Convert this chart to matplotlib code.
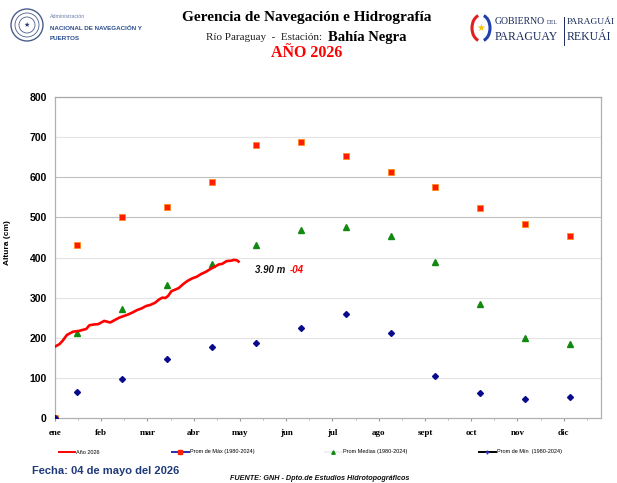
import numpy as np
import matplotlib
matplotlib.use('Agg')
import matplotlib.pyplot as plt
from matplotlib.lines import Line2D
from matplotlib.patches import Ellipse, Arc

# Data
months = ['ene', 'feb', 'mar', 'abr', 'may', 'jun', 'jul', 'ago', 'sept', 'oct', 'nov', 'dic']

# Monthly historical statistics (1980-2024), plotted at mid-month days
stat_days = [0, 15, 45, 75, 105, 135, 165, 195, 225, 255, 285, 315, 345]
prom_max = [0, 430, 500, 525, 588, 681, 688, 652, 612, 576, 523, 484, 454]
prom_med = [0, 213, 271, 331, 383, 431, 468, 477, 453, 388, 285, 200, 185]
prom_min = [0, 65, 98, 148, 178, 188, 224, 260, 211, 105, 62, 47, 52]

# Año 2026 levels (cm)
days_2026 = [0, 3, 5, 8, 12, 16, 19, 21, 23, 26, 29, 31, 33, 35, 37, 40, 43, 46, 49, 52,
             55, 58, 61, 64, 67, 70, 72, 74, 76, 78, 80, 83, 86, 89, 92, 95, 98, 101,
             104, 107, 110, 112, 115, 118, 120, 122, 123]
nivel_2026 = [178, 184, 192, 207, 215, 217, 220, 222, 231, 233, 234, 238, 242, 240, 238, 244,
              250, 254, 258, 263, 269, 273, 279, 282, 287, 296, 300, 299, 305, 316, 319, 324,
              334, 342, 348, 352, 359, 364, 371, 377, 383, 384, 391, 392, 394, 393, 390]

W, H = 617, 483


def px(x):
    return x / W


def py(y):
    return 1 - y / H


SERIF = 'Liberation Serif'
SANS = 'Liberation Sans'

fig = plt.figure(figsize=(W / 100, H / 100), dpi=100)
fig.patch.set_facecolor('white')

ax_w = (601 - 55) / W
ax = fig.add_axes([px(55), py(418), ax_w, (418 - 97) / H])

ax.plot(days_2026, nivel_2026, color='#ff0000', lw=1.9, zorder=4)
ax.plot(stat_days, prom_max, linestyle='none', marker='s', markersize=4.6,
        markerfacecolor='#ff1a00', markeredgecolor='#ff8c1a', markeredgewidth=0.6, zorder=3)
ax.plot(stat_days, prom_med, linestyle='none', marker='^', markersize=4,
        color='#128a12', zorder=3)
ax.plot(stat_days, prom_min, linestyle='none', marker='D', markersize=3,
        color='#0a0a8c', zorder=3)

ax.set_xlim(0, 366)
ax.set_ylim(0, 800)
ax.set_yticks(np.arange(0, 801, 100))
ax.set_yticklabels([str(v) for v in range(0, 801, 100)], family=SANS, weight='bold', fontsize=7.5)
ax.tick_params(axis='y', length=0, pad=6)

ax.set_xticks([31 * i for i in range(12)])
ax.set_xticklabels(months, family=SERIF, weight='bold', fontsize=6.5)
ax.set_xticks(np.arange(0, 366, 15.5), minor=True)
ax.tick_params(axis='x', which='major', length=2, color='#999999', pad=6)
ax.tick_params(axis='x', which='minor', length=1.5, color='#aaaaaa')

for v in range(100, 801, 100):
    c = '#c0c0c0' if v in (500, 600) else '#e4e4e4'
    ax.axhline(v, color=c, lw=0.8, zorder=1)

ax.spines['top'].set_color('#a8a8a8')
ax.spines['top'].set_linewidth(0.9)
for side in ('left', 'right', 'bottom'):
    ax.spines[side].set_color('#b0b0b0')
    ax.spines[side].set_linestyle((0, (1, 1)))
    ax.spines[side].set_linewidth(0.9)

ax.set_ylabel('Altura (cm)', family=SANS, weight='bold', fontsize=6)
ax.yaxis.set_label_coords((11 - 55) / (601 - 55), 0.545)

# annotation of the last value
ax.text(134, 369, '3.90 m', family=SANS, weight='bold', style='italic', fontsize=7,
        ha='left', va='center', color='#111111')
ax.text(157.5, 369, '-04', family=SANS, weight='bold', style='italic', fontsize=7,
        ha='left', va='center', color='#ff0000')

# legend row
entries = [
    (59, Line2D([], [], color='#ff0000', lw=1.4), 'Año 2026', 2.9),
    (172, Line2D([], [], color='#2b2bb0', lw=1.4, marker='s', markersize=2.5,
                 markerfacecolor='#ff2200', markeredgecolor='#ff2200'), 'Prom de Máx (1980-2024)', 3.0),
    (325, Line2D([], [], color='#f0f0f0', lw=1.4, marker='^', markersize=2.5,
                 markerfacecolor='#128a12', markeredgecolor='#128a12'), 'Prom Medias (1980-2024)', 3.0),
    (479, Line2D([], [], color='#000000', lw=1.4, marker='+', markersize=3,
                 markeredgecolor='#2b2bd0'), 'Prom de Mín  (1980-2024)', 3.0),
]
for x0, handle, label, hl in entries:
    fig.legend(handles=[handle], labels=[label], loc='center left',
               bbox_to_anchor=(px(x0), py(452)), frameon=False,
               prop={'family': SANS, 'size': 4}, handlelength=hl,
               handletextpad=0.2, borderpad=0, borderaxespad=0)

fig.text(px(32), py(471), 'Fecha: 04 de mayo del 2026', family=SANS, weight='bold',
         fontsize=8, color='#1f3a7a', ha='left', va='center')
fig.text(px(230), py(479), 'FUENTE: GNH - Dpto.de Estudios Hidrotopográficos', family=SANS,
         weight='bold', style='italic', fontsize=5.2, color='#111111', ha='left', va='center')

# header
fig.text(px(307), py(18), 'Gerencia de Navegación e Hidrografía', family=SERIF,
         weight='bold', fontsize=11, ha='center', va='center')
fig.text(px(325), py(38), 'Río Paraguay  -  Estación: ', family=SERIF, fontsize=8,
         ha='right', va='center', color='#222222')
fig.text(px(328), py(37), 'Bahía Negra', family=SERIF, weight='bold', fontsize=10.5,
         ha='left', va='center')
fig.text(px(307), py(53), 'AÑO 2026', family=SERIF, weight='bold', fontsize=11.5,
         color='#ff0000', ha='center', va='center')

# left logo (seal + institution name)
for r, lw in ((16, 1.0), (12, 0.6), (8, 0.6)):
    fig.add_artist(Ellipse((px(27), py(25)), 2 * r / W, 2 * r / H, fill=False,
                           edgecolor='#4a5d8c', lw=lw, transform=fig.transFigure))
fig.text(px(27), py(25), '★', family='DejaVu Sans', fontsize=5, color='#2a3d6c',
         ha='center', va='center')
fig.text(px(50), py(17), 'Administración', family=SANS, fontsize=3.8, color='#6a7fa8',
         ha='left', va='center')
fig.text(px(50), py(28), 'NACIONAL DE NAVEGACIÓN Y', family=SANS, weight='bold',
         fontsize=4.5, color='#2a4d8f', ha='left', va='center')
fig.text(px(50), py(38), 'PUERTOS', family=SANS, weight='bold', fontsize=4.5,
         color='#2a4d8f', ha='left', va='center')

# right logo (government)
fig.add_artist(Arc((px(481), py(28)), 18 / W, 26 / H, theta1=100, theta2=260,
                   color='#e02020', lw=2.2, transform=fig.transFigure))
fig.add_artist(Arc((px(481), py(28)), 18 / W, 26 / H, theta1=-80, theta2=80,
                   color='#2040b0', lw=2.2, transform=fig.transFigure))
fig.text(px(481), py(28), '★', family='DejaVu Sans', fontsize=7, color='#f5c400',
         ha='center', va='center')
fig.text(px(495), py(22), 'GOBIERNO', family=SERIF, fontsize=7, color='#1a2a5a',
         ha='left', va='center')
fig.text(px(547), py(23), 'DEL', family=SERIF, fontsize=4, color='#1a2a5a',
         ha='left', va='center')
fig.text(px(495), py(37), 'PARAGUAY', family=SERIF, fontsize=8.5, color='#1a2a5a',
         ha='left', va='center')
fig.add_artist(Line2D([px(564), px(564)], [py(17), py(45)], color='#1a2a5a', lw=0.7,
                      transform=fig.transFigure))
fig.text(px(567), py(22), 'PARAGUÁI', family=SERIF, fontsize=6.8, color='#1a2a5a',
         ha='left', va='center')
fig.text(px(567), py(37), 'REKUÁI', family=SERIF, fontsize=8.5, color='#1a2a5a',
         ha='left', va='center')

fig.savefig('out.png', dpi=100)
